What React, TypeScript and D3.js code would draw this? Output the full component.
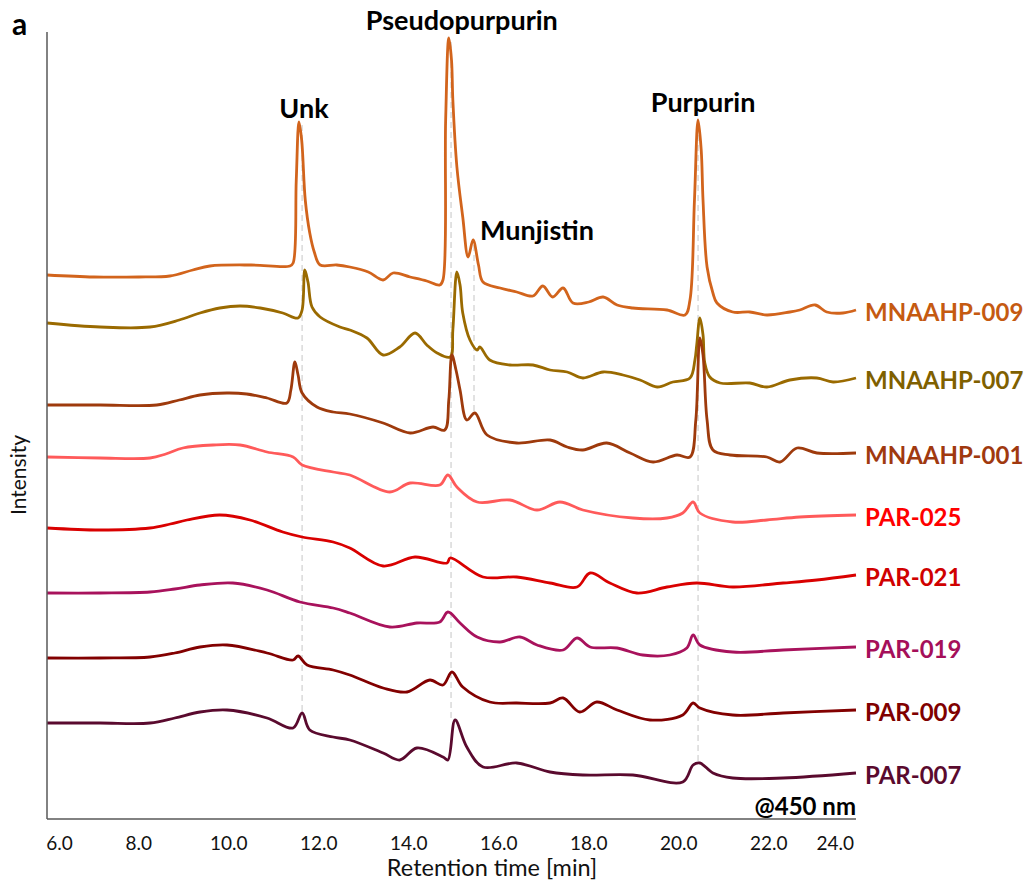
import React from "react";
import * as d3 from "d3";

type Pt = [number, number];

// Retention time [min] vs intensity (a.u.), stacked chromatograms @450 nm
const mnaahp009: Pt[] = [
  [5.96, 544], [7.0, 542], [8.0, 542], [8.69, 543], [9.2, 549], [9.58, 553], [10.5, 554], [11.36, 553],
  [11.43, 556], [11.5, 639], [11.56, 697], [11.62, 679], [11.7, 619], [11.8, 586], [11.9, 567], [12.03, 554],
  [12.4, 554], [12.69, 552], [13.1, 547], [13.43, 539], [13.65, 546], [14.03, 542], [14.4, 538], [14.69, 534],
  [14.76, 539], [14.82, 699], [14.89, 781], [14.95, 759], [14.98, 719], [15.07, 652], [15.2, 602], [15.32, 562],
  [15.43, 579], [15.55, 554], [15.65, 537], [16.03, 531], [16.4, 527], [16.76, 523], [16.98, 533], [17.2, 522],
  [17.43, 531], [17.65, 516], [18.0, 517], [18.32, 522], [18.63, 514], [18.98, 511], [19.74, 509], [20.14, 504],
  [20.25, 519], [20.35, 619], [20.43, 699], [20.5, 669], [20.54, 619], [20.63, 552], [20.76, 526], [20.85, 516],
  [21.2, 507], [21.58, 507], [21.96, 504], [22.47, 507], [22.69, 509], [23.03, 514], [23.29, 507], [23.65, 506],
  [23.94, 509],
];
const mnaahp007: Pt[] = [
  [5.96, 496], [7.14, 492], [8.25, 492], [8.9, 499], [9.36, 506], [9.8, 511], [10.25, 513], [10.7, 511],
  [11.2, 506], [11.54, 501], [11.63, 509],
  [11.69, 549], [11.76, 537], [11.85, 512], [12.03, 502], [12.47, 492], [12.69, 489], [13.07, 481], [13.43, 464],
  [13.8, 472], [14.14, 486], [14.4, 474], [14.63, 466], [14.92, 462], [14.98, 489], [15.07, 547], [15.14, 534],
  [15.2, 506], [15.36, 479], [15.52, 469], [15.58, 472], [15.8, 459], [16.25, 454], [16.76, 454], [17.14, 449],
  [17.52, 447], [17.87, 441], [18.32, 447], [18.76, 444], [19.14, 439], [19.52, 432], [19.87, 437], [20.25, 441],
  [20.36, 459], [20.4, 474], [20.47, 501], [20.54, 484], [20.58, 456], [20.69, 442], [20.92, 436], [21.58, 436],
  [21.96, 432], [22.47, 439], [23.07, 441], [23.43, 437], [23.94, 441],
];
const mnaahp001: Pt[] = [
  [5.96, 414], [7.14, 414], [8.4, 414], [8.9, 419], [9.36, 424], [9.96, 426], [10.4, 425], [10.85, 421],
  [11.29, 416], [11.38, 429],
  [11.47, 457], [11.54, 444], [11.63, 426], [11.96, 412], [12.32, 407], [12.69, 405], [13.43, 396], [14.03, 386],
  [14.54, 392], [14.8, 389], [14.89, 419], [14.96, 464], [15.05, 449], [15.14, 429], [15.29, 399], [15.47, 406],
  [15.74, 384], [16.4, 376], [17.14, 379], [17.52, 372], [17.87, 369], [18.4, 376], [18.92, 366], [19.43, 357],
  [19.96, 364], [20.25, 362], [20.38, 399], [20.47, 481], [20.54, 464], [20.63, 399], [20.76, 369], [21.14, 364],
  [21.96, 362], [22.25, 357], [22.63, 371], [23.07, 366], [23.94, 366],
];
const par025: Pt[] = [
  [5.96, 362], [7.14, 361], [8.25, 361], [8.6, 365], [8.98, 371], [9.65, 374], [10.25, 374], [10.85, 367],
  [11.43, 362],
  [11.63, 354], [12.32, 347], [12.69, 344], [13.58, 327], [14.03, 336], [14.69, 334], [14.87, 344], [15.07, 332],
  [15.52, 317], [16.25, 319], [16.85, 309], [17.36, 317], [17.87, 309], [18.98, 301], [19.74, 301], [20.09, 306],
  [20.32, 317], [20.47, 306], [21.2, 297], [21.96, 299], [22.69, 302], [23.94, 304],
];
const par021: Pt[] = [
  [5.96, 291], [7.14, 289], [8.25, 291], [8.7, 295], [9.07, 299], [9.8, 304], [10.47, 299], [11.2, 287],
  [11.63, 282],
  [12.32, 277], [12.69, 271], [13.43, 253], [14.14, 262], [14.85, 256], [14.92, 261], [15.65, 242], [16.4, 242],
  [17.14, 236], [17.74, 232], [18.03, 246], [18.47, 236], [19.07, 226], [19.74, 232], [20.4, 236], [21.2, 232],
  [22.32, 236], [23.07, 239], [23.94, 244],
];
const par019: Pt[] = [
  [5.96, 226], [7.14, 226], [8.25, 227], [8.8, 230], [9.36, 234], [10.09, 236], [10.85, 229], [11.58, 217],
  [12.32, 211],
  [12.69, 206], [13.58, 192], [14.18, 196], [14.69, 197], [14.87, 207], [15.14, 196], [15.52, 182], [16.03, 177],
  [16.47, 182], [16.85, 174], [17.43, 169], [17.74, 181], [18.03, 172], [18.63, 171], [19.2, 164], [19.8, 164],
  [20.18, 171], [20.32, 184], [20.47, 174], [21.2, 167], [22.32, 169], [23.94, 172],
];
const par009: Pt[] = [
  [5.96, 161], [7.14, 161], [8.25, 162], [8.8, 166], [9.36, 172], [9.96, 174], [10.85, 166], [11.43, 159],
  [11.54, 163],
  [11.74, 154], [12.32, 149], [12.69, 144], [13.43, 131], [13.96, 127], [14.47, 139], [14.76, 134], [14.96, 147],
  [15.2, 132], [15.8, 117], [16.4, 116], [17.14, 116], [17.43, 121], [17.8, 107], [18.18, 117], [18.63, 109],
  [19.36, 99], [20.09, 104], [20.32, 116], [20.47, 111], [21.2, 104], [22.32, 106], [23.94, 109],
];
const par007: Pt[] = [
  [5.96, 96], [7.14, 96], [8.25, 96], [8.8, 101], [9.36, 107], [9.96, 109], [10.85, 101], [11.43, 91],
  [11.63, 106],
  [11.8, 89], [12.32, 82], [12.69, 79], [13.43, 66], [13.8, 59], [14.18, 71], [14.76, 62], [14.87, 59],
  [15.03, 99], [15.29, 72], [15.65, 52], [16.4, 56], [17.14, 47], [17.87, 44], [18.98, 44], [20.09, 37],
  [20.32, 54], [20.47, 56], [20.76, 46], [21.2, 41], [22.32, 41], [23.94, 46],
];

const sampleNames = ["MNAAHP-009", "MNAAHP-007", "MNAAHP-001", "PAR-025", "PAR-021", "PAR-019", "PAR-009", "PAR-007"];
const sampleData = [mnaahp009, mnaahp007, mnaahp001, par025, par021, par019, par009, par007];
const lineColors = ["#D2641C", "#9A6A00", "#9E3A0C", "#FF5A5A", "#D90000", "#A8125C", "#820000", "#5A0A2E"];
const labelColors = ["#C55A11", "#7F6000", "#A0390F", "#FF0000", "#D00000", "#A50F5A", "#800000", "#5A0A2E"];

const peakNames = ["Unk", "Pseudopurpurin", "Munjistin", "Purpurin"];
const peakTimes = [11.63, 14.94, 15.45, 20.43];
const peakTop = [694, 777, 574, 694];
const peakBottom = [106, 97, 407, 54];
const peakLabelTimes = [11.56, 14.89, 15.45, 20.43];
const peakLabelIntensity = [701, 789, 579, 707];

const xTicks = [6, 8, 10, 12, 14, 16, 18, 20, 22, 24];

export default function App() {
  const W = 1035, H = 886;
  const left = 47, right = 856, top = 32, bottom = 819;
  const x = d3.scaleLinear().domain([5.96, 23.94]).range([left, right]);
  const y = d3.scaleLinear().domain([0, 787]).range([bottom, top]);
  const line = d3.line<Pt>().x(d => x(d[0])).y(d => y(d[1])).curve(d3.curveCatmullRom.alpha(0.5));
  const font = "Lato, 'Open Sans', sans-serif";

  const tickX = (v: number, label: string) => {
    const half = label.length * 5.2;
    return Math.min(Math.max(x(v), left + half - 3), right - half);
  };

  const peakLabelPos = [
    { dx: 5, anchor: "middle" },
    { dx: 13, anchor: "middle" },
    { dx: 6, anchor: "start" },
    { dx: 5, anchor: "middle" },
  ];

  return (
    <svg width={W} height={H} style={{ position: "absolute", left: 0, top: 0, background: "#fff" }} fontFamily={font}>
      {/* dashed peak guides */}
      {peakTimes.map((t, i) => (
        <line key={"g" + i} x1={x(t)} x2={x(t)} y1={y(peakTop[i])} y2={y(peakBottom[i])}
          stroke="#D9D9D9" strokeWidth={1.5} strokeDasharray="6,4" />
      ))}
      {/* traces */}
      {sampleData.map((d, i) => (
        <path key={"l" + i} d={line(d) || ""} fill="none" stroke={lineColors[i]} strokeWidth={2.8}
          strokeLinejoin="round" />
      ))}
      {/* axes */}
      <line x1={left} x2={left} y1={top} y2={bottom} stroke="#595959" strokeWidth={1.5} />
      <line x1={left} x2={right} y1={bottom} y2={bottom} stroke="#595959" strokeWidth={1.5} />
      {xTicks.map(v => {
        const label = v.toFixed(1);
        return (
          <text key={"t" + v} x={tickX(v, label)} y={850} textAnchor="middle" fontSize={19} fill="#111">{label}</text>
        );
      })}
      <text x={(387 + 597) / 2} y={876} textAnchor="middle" fontSize={23.5} fill="#111">Retention time [min]</text>
      <text transform={`translate(26,475) rotate(-90)`} textAnchor="middle" fontSize={21} fill="#111">Intensity</text>
      <text x={12} y={35} fontSize={30} fontWeight="bold" fill="#000">a</text>
      <text x={right} y={815} textAnchor="end" fontSize={24} fontWeight="bold" fill="#000">@450 nm</text>
      {/* peak labels */}
      {peakNames.map((n, i) => (
        <text key={"p" + i} x={x(peakLabelTimes[i]) + peakLabelPos[i].dx} y={y(peakLabelIntensity[i])}
          textAnchor={peakLabelPos[i].anchor as any} fontSize={27} fontWeight="bold" fill="#000">{n}</text>
      ))}
      {/* sample labels at trace ends */}
      {sampleNames.map((n, i) => {
        const d = sampleData[i];
        const last = d[d.length - 1];
        return (
          <text key={"s" + i} x={865} y={y(last[1]) + 11} fontSize={24} fontWeight="bold" fill={labelColors[i]}>{n}</text>
        );
      })}
    </svg>
  );
}
